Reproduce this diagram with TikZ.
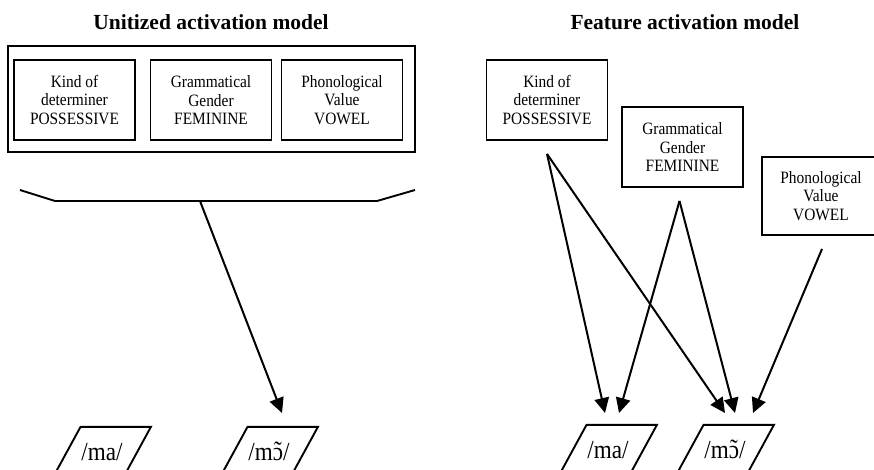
\documentclass[tikz,border=0pt]{standalone}
\usepackage{fontspec}
\setmainfont{Liberation Serif}
\newfontfamily\tallfont[FakeStretch=0.89]{Liberation Serif}
\usetikzlibrary{arrows.meta,calc}
\newcommand{\nasalo}{\ooalign{ɔ\cr\hidewidth\raisebox{0.5pt}{˜}\hidewidth\cr}}
\begin{document}
\begin{tikzpicture}[x=1pt,y=-1pt,
  feat/.style={draw,line width=1.9pt,minimum width=121pt,minimum height=80pt,inner sep=0pt,align=center,font=\tallfont\fontsize{17.3}{18.5}\selectfont},
  ttl/.style={font=\fontsize{21.5}{24}\selectfont\bfseries},
  form/.style={minimum width=70pt,minimum height=50pt,inner sep=0pt,font=\tallfont\fontsize{26}{28}\selectfont},
  arr/.style={line width=2pt,-{Triangle[length=15pt,width=14.5pt]}},
  thick line/.style={line width=1.9pt},
]
\useasboundingbox (0,0) rectangle (874,469);
\clip (0,0) rectangle (874,469);

% titles
\node[ttl] (t1) at (211,22) {Unitized activation model};
\node[ttl] (t2) at (685,22) {Feature activation model};

% unitized model
\node[draw,thick line,minimum width=407pt,minimum height=106pt] (unit) at (211.5,99) {};
\node[feat] (u1) at (74.5,100) {Kind of\\determiner\\POSSESSIVE};
\node[feat] (u2) at (211,100) {Grammatical\\Gender\\FEMININE};
\node[feat] (u3) at (342,100) {Phonological\\Value\\VOWEL};

\draw[thick line] (20,190) -- (55,201) -- (377,201) -- (415,190);
\coordinate (brk) at (200,201);

% feature model
\node[feat] (kf) at (547,100) {Kind of\\determiner\\POSSESSIVE};
\node[feat] (gf) at (682.5,147) {Grammatical\\Gender\\FEMININE};
\node[feat,minimum width=118pt,minimum height=78pt] (pf) at (821,196) {Phonological\\Value\\VOWEL};

% word forms
\node[form] (ma1) at (102,452) {/ma/};
\node[form] (mo1) at (269,452) {/m\nasalo/};
\node[form] (ma2) at (608,450) {/ma/};
\node[form] (mo2) at (725,450) {/m\nasalo/};
\foreach \n in {ma1,mo1,ma2,mo2}
  \draw[thick line] ([xshift=13.75pt]\n.north west) -- ([xshift=13.75pt]\n.north east)
    -- ([xshift=-13.75pt]\n.south east) -- ([xshift=-13.75pt]\n.south west) -- cycle;

% arrow targets
\coordinate (tm1) at (282,413);
\coordinate (ta1) at (605,413);
\coordinate (ta2) at (619,413);
\coordinate (tb1) at (725,413);
\coordinate (tb2) at (735,413);
\coordinate (tb3) at (753,413);

\draw[arr] (brk) -- (tm1);
\draw[arr] ($(kf.south)+(0,13)$) -- (ta1);
\draw[arr] ($(kf.south)+(0,13)$) -- (tb1);
\draw[arr] ($(gf.south)+(-3,13)$) -- (ta2);
\draw[arr] ($(gf.south)+(-3,13)$) -- (tb2);
\draw[arr] ($(pf.south)+(1,13)$) -- (tb3);
\end{tikzpicture}
\end{document}
